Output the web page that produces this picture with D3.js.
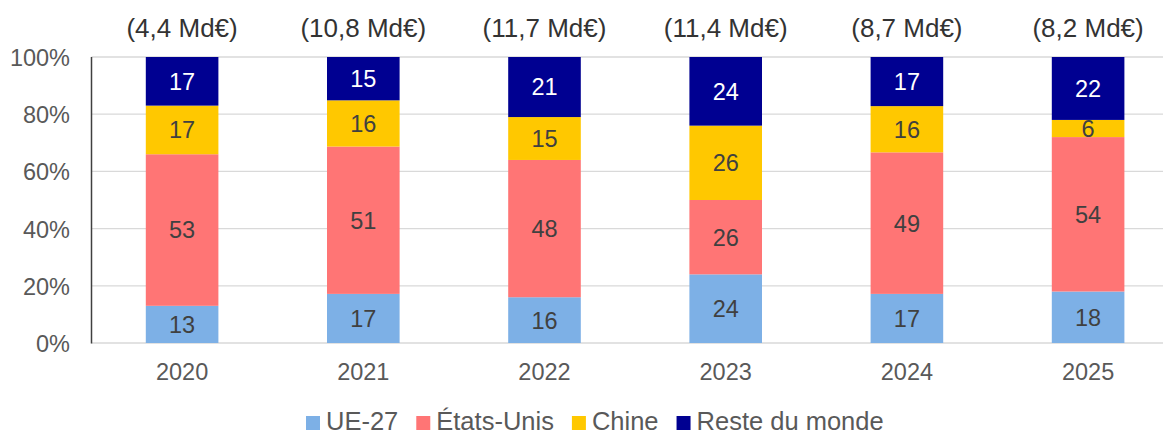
<!DOCTYPE html>
<html><head><meta charset="utf-8">
<script src="https://cdn.jsdelivr.net/npm/d3@7"></script>
<style>body{margin:0;background:#fff}svg{display:block;font-family:"Liberation Sans",Arial,sans-serif}</style>
</head><body><svg id="c" width="1163" height="432"></svg>
<script>
const years = ["2020","2021","2022","2023","2024","2025"];
const totals = ["(4,4 Md€)","(10,8 Md€)","(11,7 Md€)","(11,4 Md€)","(8,7 Md€)","(8,2 Md€)"];
const seriesNames = ["UE-27","États-Unis","Chine","Reste du monde"];
const ue27 = [13,17,16,24,17,18];
const usa = [53,51,48,26,49,54];
const chine = [17,16,15,26,16,6];
const reste = [17,15,21,24,17,22];
const yTicks = [0,0.2,0.4,0.6,0.8,1];
const colors = ["#7DB0E6","#FF7575","#FFC800","#000091"];
const labelColors = ["#404040","#404040","#404040","#ffffff"];

const svg = d3.select("#c");
const keys = ["ue27","usa","chine","reste"];
const rows = years.map((y,i)=>({year:y, ue27:ue27[i], usa:usa[i], chine:chine[i], reste:reste[i]}));
const stack = d3.stack().keys(keys).offset(d3.stackOffsetExpand)(rows);

const x = d3.scaleBand().domain(years).range([91.5,1178.7]).paddingInner(0.6).paddingOuter(0.3);
const y = d3.scaleLinear().domain([0,1]).range([343,57]);

// gridlines
svg.append("g").selectAll("line").data(yTicks).join("line")
  .attr("x1",91.5).attr("x2",1163).attr("y1",d=>y(d)).attr("y2",d=>y(d))
  .attr("stroke","#d9d9d9").attr("stroke-width",1.3);

// y axis labels
const ya = svg.append("g").attr("transform","translate(91.5,0)")
  .call(d3.axisLeft(y).tickValues(yTicks).tickFormat(d3.format(".0%")).tickSize(0).tickPadding(21.5));
ya.select(".domain").remove();
ya.selectAll("text").attr("font-size",23.5).attr("fill","#595959").attr("font-family","Liberation Sans, Arial, sans-serif").attr("dy","0.36em");

// bars
const bw = 72.6;
stack.forEach((s,si)=>{
  const g = svg.append("g");
  g.selectAll("rect").data(s).join("rect")
    .attr("x",d=>x(d.data.year)+x.bandwidth()/2-bw/2).attr("width",bw)
    .attr("y",d=>y(d[1])).attr("height",d=>y(d[0])-y(d[1]))
    .attr("fill",colors[si]);
  g.selectAll("text").data(s).join("text")
    .attr("x",d=>x(d.data.year)+x.bandwidth()/2)
    .attr("y",d=>(y(d[0])+y(d[1]))/2).attr("dy","0.36em")
    .attr("text-anchor","middle").attr("font-size",23.5).attr("fill",labelColors[si])
    .text(d=>d.data[keys[si]]);
});

// y axis line
svg.append("line").attr("x1",91.5).attr("x2",91.5).attr("y1",57).attr("y2",343.5)
  .attr("stroke","#404040").attr("stroke-width",1.5);

// x labels
svg.append("g").selectAll("text").data(years).join("text")
  .attr("x",d=>x(d)+x.bandwidth()/2).attr("y",380).attr("text-anchor","middle")
  .attr("font-size",23.5).attr("fill","#595959").text(d=>d);

// totals
svg.append("g").selectAll("text").data(years).join("text")
  .attr("x",d=>x(d)+x.bandwidth()/2).attr("y",37).attr("text-anchor","middle")
  .attr("font-size",26).attr("fill","#333333").text((d,i)=>totals[i]);

// legend
const leg = svg.append("g");
let lx = 306;
seriesNames.forEach((n,i)=>{
  leg.append("rect").attr("x",lx).attr("y",416).attr("width",14).attr("height",14).attr("fill",colors[i]);
  const t = leg.append("text").attr("x",lx+20).attr("y",430).attr("font-size",25.5).attr("fill","#595959").text(n);
  lx += 20 + t.node().getComputedTextLength() + 18;
});
</script></body></html>
